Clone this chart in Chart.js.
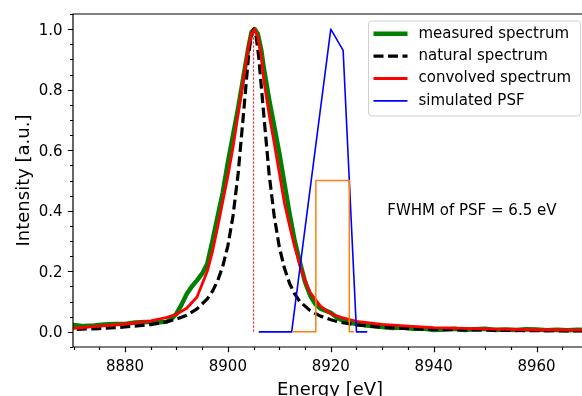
<!DOCTYPE html>
<html>
<head>
<meta charset="utf-8">
<script src="https://cdn.jsdelivr.net/npm/chart.js@4/dist/chart.umd.min.js"></script>
<style>
  html, body { margin: 0; padding: 0; background: #fff; overflow: hidden; width: 582px; height: 396px; }
  canvas { display: block; }
</style>
</head>
<body>
<canvas id="spectrum" width="600" height="396"></canvas>
<script>
// ---- measured spectrum (energy in eV, normalised intensity) ----
const measuredEnergy = [8860, 8864, 8868, 8870, 8872, 8874, 8876, 8878, 8880, 8882, 8884, 8886, 8888, 8889,
  8890, 8891, 8892, 8893, 8894, 8895, 8896, 8897, 8898, 8899, 8900, 8901, 8902, 8903, 8904, 8904.6,
  8905.2, 8905.8, 8906.5, 8907, 8908, 8909, 8910, 8911, 8912, 8913, 8914, 8915, 8916, 8917, 8918, 8919,
  8920, 8921, 8922, 8923, 8924, 8925, 8927, 8930, 8932, 8934, 8936, 8938, 8940, 8942, 8944, 8946, 8948,
  8950, 8952, 8954, 8956, 8958, 8960, 8962, 8964, 8966, 8968, 8970, 8975, 8980];
const measuredIntensity = [0.022, 0.024, 0.024, 0.023, 0.019, 0.021, 0.024, 0.026, 0.026, 0.031, 0.033, 0.031, 0.033, 0.042,
  0.060, 0.090, 0.125, 0.150, 0.170, 0.192, 0.225, 0.300, 0.380, 0.460, 0.560, 0.650, 0.740, 0.840, 0.940, 0.990,
  1.000, 0.985, 0.930, 0.870, 0.770, 0.680, 0.590, 0.490, 0.390, 0.300, 0.230, 0.165, 0.120, 0.092, 0.077, 0.070,
  0.063, 0.050, 0.040, 0.033, 0.029, 0.026, 0.021, 0.016, 0.013, 0.014, 0.010, 0.011, 0.006, 0.008, 0.010, 0.006, 0.009,
  0.010, 0.006, 0.008, 0.006, 0.009, 0.008, 0.005, 0.007, 0.005, 0.007, 0.006, 0.005, 0.005];

// ---- natural (intrinsic) line shape ----
const naturalEnergy = [8860, 8865, 8870, 8875, 8880, 8885, 8888, 8890, 8892, 8894, 8896, 8897, 8898, 8899, 8900,
  8901, 8902, 8903, 8904, 8904.5, 8905, 8905.5, 8906, 8907, 8908, 8909, 8910, 8911, 8912, 8913, 8914, 8916,
  8918, 8920, 8922, 8925, 8930, 8935, 8940, 8950, 8960, 8970, 8980];
const naturalIntensity = [0.005, 0.006, 0.008, 0.011, 0.016, 0.024, 0.033, 0.042, 0.055, 0.076, 0.109, 0.134, 0.168, 0.216, 0.284,
  0.383, 0.524, 0.713, 0.908, 0.975, 1.000, 0.975, 0.908, 0.713, 0.524, 0.383, 0.280, 0.210, 0.160, 0.125, 0.100, 0.070,
  0.052, 0.040, 0.031, 0.023, 0.015, 0.011, 0.008, 0.0055, 0.004, 0.003, 0.003];

// ---- natural line convolved with the PSF ----
const convolvedEnergy = [8860, 8865, 8870, 8875, 8880, 8885, 8888, 8890, 8892, 8894, 8896, 8897, 8898, 8899, 8900,
  8901, 8902, 8903, 8904, 8904.6, 8905.2, 8905.8, 8906.5, 8907, 8908, 8909, 8910, 8911, 8912, 8913, 8914, 8915,
  8916, 8918, 8920, 8922, 8925, 8930, 8935, 8940, 8950, 8960, 8970, 8980];
const convolvedIntensity = [0.008, 0.010, 0.012, 0.019, 0.026, 0.036, 0.047, 0.058, 0.078, 0.115, 0.200, 0.265, 0.345, 0.430, 0.515,
  0.610, 0.720, 0.830, 0.940, 0.985, 1.000, 0.975, 0.910, 0.830, 0.720, 0.625, 0.525, 0.425, 0.350, 0.280, 0.220, 0.170,
  0.130, 0.085, 0.060, 0.048, 0.035, 0.025, 0.019, 0.014, 0.010, 0.007, 0.006, 0.005];

// ---- simulated point spread function ----
const psfEnergy = [8906.0, 8912.4, 8920.0, 8922.4, 8925.0, 8927.1];
const psfIntensity = [0, 0, 1.0, 0.93, 0, 0];

// ---- rectangular window of the PSF width ----
const windowEnergy = [8912.6, 8917.1, 8917.1, 8923.6, 8923.6, 8924.5];
const windowIntensity = [0, 0, 0.5, 0.5, 0, 0];

// ---- marker at the line position ----
const markerEnergy = [8905.0, 8905.0];
const markerIntensity = [0, 1.0];

// ---- axes ----
const xRange = [8869.9, 8969.8];
const yRange = [-0.05, 1.05];
const xTickLabels = ['8880', '8900', '8920', '8940', '8960'];
const yTickLabels = ['0.0', '0.2', '0.4', '0.6', '0.8', '1.0'];
const xMinorStep = 5;
const yMinorStep = 0.05;
const xTitle = 'Energy [eV]';
const yTitle = 'Intensity [a.u.]';
const fwhm = windowEnergy[3] - windowEnergy[1];
const noteText = 'FWHM of PSF = ' + fwhm.toFixed(1) + ' eV';
const notePosition = [8931.0, 0.386];

const FONT = '"DejaVu Sans", "Liberation Sans", sans-serif';

function pts(xs, ys) { return xs.map((x, i) => ({ x: x, y: ys[i] })); }

const datasets = [
  { label: 'measured spectrum', data: pts(measuredEnergy, measuredIntensity),
    borderColor: '#008000', borderWidth: 4.5, order: 6 },
  { label: 'natural spectrum', data: pts(naturalEnergy, naturalIntensity),
    borderColor: '#000000', borderWidth: 3.2, borderDash: [10, 4.5], order: 5 },
  { label: 'convolved spectrum', data: pts(convolvedEnergy, convolvedIntensity),
    borderColor: '#ff0000', borderWidth: 2.8, order: 4 },
  { label: 'simulated PSF', data: pts(psfEnergy, psfIntensity),
    borderColor: '#0000ff', borderWidth: 1.6, order: 3 },
  { label: '', data: pts(windowEnergy, windowIntensity),
    borderColor: '#ff7f0e', borderWidth: 1.5, order: 2 },
  { label: '', data: pts(markerEnergy, markerIntensity),
    borderColor: 'rgba(255,0,0,0.9)', borderWidth: 1, borderDash: [2.5, 1.5], order: 1 }
].map(d => Object.assign({ pointRadius: 0, fill: false, tension: 0, clip: 0, borderJoinStyle: 'round', borderCapStyle: 'butt' }, d));

// axes frame, ticks, titles, note and legend drawn on top of the data
const decorations = {
  id: 'decorations',
  afterDatasetsDraw(chart) {
    const ctx = chart.ctx;
    const a = chart.chartArea;
    const xs = chart.scales.x, ys = chart.scales.y;
    ctx.save();

    // frame
    ctx.strokeStyle = '#000';
    ctx.lineWidth = 1.2;
    ctx.beginPath();
    ctx.rect(a.left, a.top, a.right - a.left, a.bottom - a.top);
    ctx.stroke();

    // ticks
    ctx.lineWidth = 1.2;
    ctx.beginPath();
    for (let v = Math.ceil(xRange[0] / xMinorStep) * xMinorStep; v <= xRange[1]; v += xMinorStep) {
      const px = Math.round(xs.getPixelForValue(v)) + 0.5;
      const major = xTickLabels.includes(String(v));
      ctx.moveTo(px, a.bottom);
      ctx.lineTo(px, a.bottom + (major ? 5.2 : 3));
    }
    for (let k = Math.ceil(yRange[0] / yMinorStep); k * yMinorStep <= yRange[1] + 1e-9; k++) {
      const v = k * yMinorStep;
      const py = Math.round(ys.getPixelForValue(v)) + 0.5;
      const major = k % 4 === 0;
      ctx.moveTo(a.left, py);
      ctx.lineTo(a.left - (major ? 5.2 : 3), py);
    }
    ctx.stroke();

    // tick labels
    ctx.fillStyle = '#000';
    ctx.font = '15px ' + FONT;
    ctx.textAlign = 'center';
    ctx.textBaseline = 'alphabetic';
    xTickLabels.forEach(t => {
      ctx.fillText(t, xs.getPixelForValue(parseFloat(t)), a.bottom + 24);
    });
    ctx.textAlign = 'right';
    yTickLabels.forEach(t => {
      ctx.fillText(t, a.left - 10.5, ys.getPixelForValue(parseFloat(t)) + 5.5);
    });

    // axis titles
    ctx.font = '18px ' + FONT;
    ctx.textAlign = 'center';
    ctx.fillText(xTitle, (a.left + a.right) / 2, a.bottom + 48);
    ctx.save();
    ctx.translate(29, (a.top + a.bottom) / 2);
    ctx.rotate(-Math.PI / 2);
    ctx.fillText(yTitle, 0, 0);
    ctx.restore();

    // note
    ctx.font = '15px ' + FONT;
    ctx.textAlign = 'left';
    ctx.fillText(noteText, xs.getPixelForValue(notePosition[0]), ys.getPixelForValue(notePosition[1]));

    // legend
    const entries = chart.data.datasets.filter(d => d.label);
    const box = { x: 368.5, y: 21, w: 212, h: 95 };
    ctx.globalAlpha = 0.8;
    ctx.fillStyle = '#fff';
    ctx.beginPath();
    ctx.roundRect(box.x, box.y, box.w, box.h, 3);
    ctx.fill();
    ctx.globalAlpha = 1;
    ctx.strokeStyle = 'rgba(204,204,204,0.9)';
    ctx.lineWidth = 1;
    ctx.stroke();
    ctx.font = '15px ' + FONT;
    ctx.textBaseline = 'middle';
    entries.forEach((d, i) => {
      const y = 33.7 + i * 22.4;
      ctx.strokeStyle = d.borderColor;
      ctx.lineWidth = d.borderWidth;
      ctx.setLineDash(d.borderDash || []);
      ctx.beginPath();
      ctx.moveTo(373.5, y);
      ctx.lineTo(407.5, y);
      ctx.stroke();
      ctx.setLineDash([]);
      ctx.fillStyle = '#000';
      ctx.fillText(d.label, 418.5, y);
    });

    ctx.restore();
  }
};

new Chart(document.getElementById('spectrum'), {
  type: 'line',
  data: { datasets: datasets },
  options: {
    responsive: false,
    animation: false,
    events: [],
    layout: { padding: { left: 73, right: 13, top: 14, bottom: 49 } },
    plugins: { legend: { display: false }, tooltip: { enabled: false } },
    scales: {
      x: { type: 'linear', min: xRange[0], max: xRange[1], display: false },
      y: { type: 'linear', min: yRange[0], max: yRange[1], display: false }
    }
  },
  plugins: [decorations]
});
</script>
</body>
</html>
